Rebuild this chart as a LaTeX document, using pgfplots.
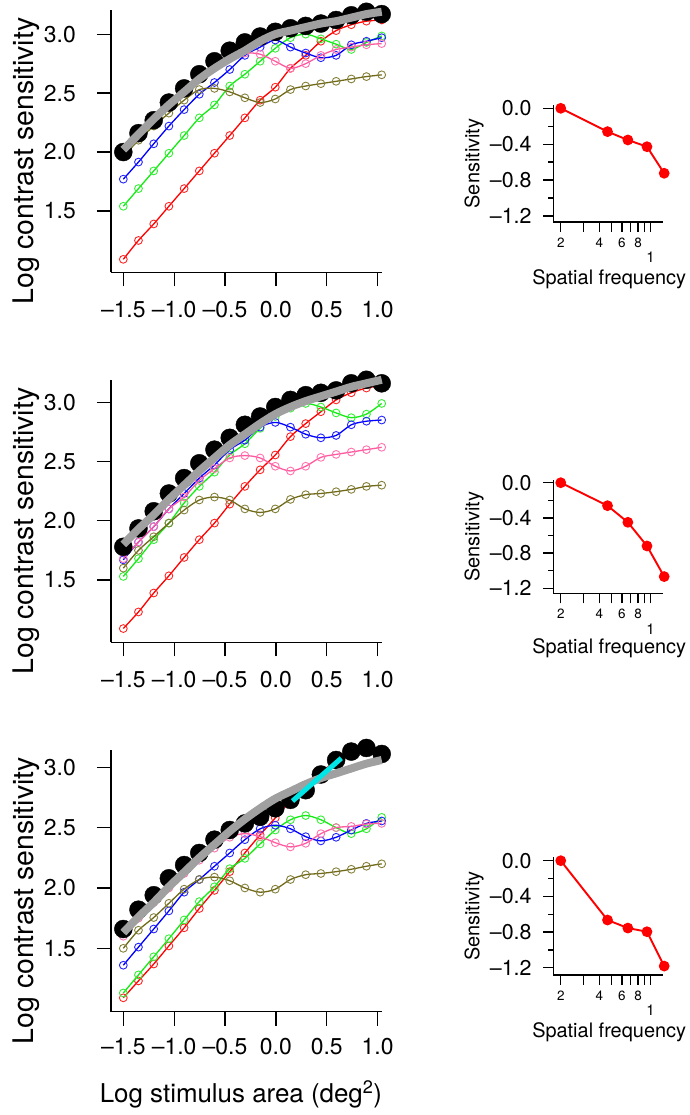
\documentclass[border=0pt]{standalone}
\usepackage{fontspec}
\setmainfont{TeX Gyre Heros}
\usepackage{pgfplots}
\usepackage{pgfplotstable}
\pgfplotsset{compat=1.18}
\definecolor{cred}{RGB}{255,0,0}
\definecolor{cblue}{RGB}{0,0,255}
\definecolor{cgreen}{RGB}{20,235,20}
\definecolor{cpink}{RGB}{255,90,160}
\definecolor{colive}{RGB}{112,106,24}
\definecolor{cgray}{RGB}{160,160,160}
\definecolor{ccyan}{RGB}{0,230,230}

\pgfplotstableread{
x red blue green pink olive black gray
-1.500 1.09 1.77 1.54 1.98 1.96 2.00 2.02
-1.351 1.25 1.915 1.69 2.12 2.10 2.16 2.15
-1.201 1.39 2.07 1.84 2.25 2.22 2.27 2.28
-1.052 1.54 2.22 1.99 2.38 2.33 2.42 2.40
-0.902 1.69 2.36 2.14 2.50 2.44 2.54 2.51
-0.753 1.84 2.49 2.29 2.62 2.53 2.66 2.62
-0.604 1.99 2.59 2.40 2.72 2.54 2.77 2.71
-0.454 2.14 2.70 2.56 2.80 2.51 2.86 2.79
-0.305 2.29 2.82 2.66 2.84 2.46 2.93 2.86
-0.155 2.44 2.89 2.77 2.83 2.42 2.98 2.94
-0.006 2.55 2.95 2.88 2.77 2.45 3.02 3.00
0.143 2.71 2.89 2.97 2.71 2.53 3.05 3.03
0.293 2.82 2.84 3.00 2.75 2.56 3.07 3.06
0.442 2.94 2.80 2.96 2.82 2.58 3.09 3.09
0.592 3.03 2.82 2.915 2.87 2.60 3.12 3.11
0.741 3.08 2.91 2.87 2.89 2.62 3.16 3.14
0.890 3.11 2.94 2.93 2.91 2.64 3.19 3.17
1.040 3.12 2.97 2.985 2.92 2.655 3.17 3.19
}\dataA

\pgfplotstableread{
x red blue green pink olive black gray
-1.500 1.09 1.67 1.53 1.68 1.60 1.78 1.80
-1.351 1.23 1.82 1.68 1.82 1.75 1.935 1.93
-1.201 1.39 1.95 1.84 1.95 1.865 2.08 2.05
-1.052 1.535 2.10 1.98 2.10 1.98 2.23 2.18
-0.902 1.69 2.23 2.15 2.20 2.09 2.36 2.30
-0.753 1.84 2.36 2.29 2.34 2.175 2.485 2.42
-0.604 1.98 2.47 2.41 2.44 2.20 2.60 2.53
-0.454 2.14 2.60 2.555 2.53 2.175 2.70 2.64
-0.305 2.29 2.68 2.65 2.55 2.10 2.81 2.73
-0.155 2.43 2.79 2.78 2.53 2.07 2.88 2.82
-0.006 2.555 2.83 2.88 2.46 2.10 2.96 2.90
0.143 2.71 2.79 2.95 2.42 2.18 3.02 2.96
0.293 2.82 2.73 2.99 2.46 2.22 3.06 3.01
0.442 2.92 2.70 2.96 2.535 2.23 3.08 3.05
0.592 3.02 2.72 2.91 2.56 2.245 3.10 3.09
0.741 3.08 2.81 2.87 2.58 2.265 3.16 3.13
0.890 3.12 2.84 2.90 2.60 2.29 3.19 3.16
1.040 3.14 2.85 2.99 2.62 2.30 3.16 3.19
}\dataB

\pgfplotstableread{
x red blue green pink olive black gray
-1.500 1.09 1.36 1.13 1.60 1.50 1.66 1.63
-1.351 1.23 1.51 1.28 1.75 1.65 1.82 1.76
-1.201 1.37 1.66 1.43 1.88 1.755 1.94 1.88
-1.052 1.52 1.81 1.58 2.00 1.873 2.08 2.01
-0.902 1.67 1.965 1.735 2.12 1.99 2.19 2.13
-0.753 1.83 2.07 1.887 2.23 2.07 2.29 2.25
-0.604 1.98 2.18 2.01 2.33 2.09 2.40 2.36
-0.454 2.135 2.29 2.16 2.42 2.06 2.48 2.47
-0.305 2.29 2.40 2.245 2.45 2.00 2.535 2.57
-0.155 2.44 2.49 2.365 2.425 1.965 2.59 2.66
-0.006 2.58 2.52 2.48 2.375 1.99 2.66 2.74
0.143 2.72 2.49 2.565 2.34 2.07 2.73 2.80
0.293 2.83 2.425 2.60 2.37 2.11 2.81 2.86
0.442 2.95 2.39 2.565 2.45 2.12 2.94 2.91
0.592 3.06 2.42 2.50 2.50 2.135 3.06 2.95
0.741 3.12 2.48 2.45 2.51 2.155 3.13 2.99
0.890 3.15 2.535 2.49 2.53 2.18 3.16 3.03
1.040 3.11 2.555 2.585 2.535 2.20 3.11 3.06
}\dataC

\pgfplotsset{
  leftax/.style={
    scale only axis, width=270.7bp, height=262.3bp,
    anchor=south west, clip=false, clip mode=individual,
    axis lines=left, axis line style={-, line width=1.3bp},
    xmin=-1.621, xmax=1.04,
    xtick={-1.5,-1,-0.5,0,0.5,1},
    xticklabels={\textendash1.5,\textendash1.0,\textendash0.5,0.0,0.5,1.0},
    ytick={1.5,2,2.5,3}, yticklabels={1.5,2.0,2.5,3.0},
    minor tick num=0,
    tick align=outside, major tick length=14bp,
    tick style={line width=1.3bp, black},
    ticklabel style={font=\fontsize{23}{27}\selectfont, inner sep=0pt},
    xticklabel style={anchor=center},
    yticklabel style={anchor=east},
    yticklabel shift=21bp,
    xlabel style={font=\fontsize{26}{30}\selectfont},
    ylabel style={font=\fontsize{28.5}{32}\selectfont},
    ylabel={Log contrast sensitivity},
    ylabel style={at={(axis description cs:-0.314,0.424)}, anchor=center},
  },
  rightax/.style={
    scale only axis, width=110bp,
    anchor=south west, clip=false, clip mode=individual,
    axis lines=left, axis line style={-, line width=1.3bp},
    xmin=1.75, xmax=12.6,
    xtick={2,3,4,5,6,7,8,9},
    xticklabels={2,,4,,6,,8,},
    extra x ticks={10}, extra x tick labels={1},
    extra x tick style={xticklabel style={yshift=-15bp, font=\fontsize{15}{18}\selectfont}},
    ytick={0,-0.4,-0.8,-1.2},
    yticklabels={0.0,\textendash0.4,\textendash0.8,\textendash1.2},
    minor ytick={-0.2,-0.6,-1.0},
    tick align=outside, major tick length=10bp, minor tick length=5bp,
    tick style={line width=1.3bp, black},
    ticklabel style={inner sep=0pt},
    xticklabel style={anchor=center, font=\fontsize{13.5}{16}\selectfont},
    xticklabel shift=10.7bp,
    yticklabel style={anchor=east, font=\fontsize{21.5}{25}\selectfont},
    yticklabel shift=11.6bp,
    label style={font=\fontsize{20}{24}\selectfont},
    xlabel={Spatial frequency},
    xlabel style={at={(axis description cs:0.508,-0.487)}, anchor=center},
    ylabel={Sensitivity},
    ylabel style={at={(axis description cs:-0.721,0.5)}, anchor=center},
  },
  ser/.style={color=#1, line width=1.3bp, smooth, mark=o, mark size=3.9bp,
    mark options={solid, line width=0.9bp, draw=#1!85!white}},
  blk/.style={only marks, mark=*, mark size=9bp, black},
  gry/.style={no marks, smooth, line width=8bp, cgray},
  rser/.style={cred, line width=1.9bp, mark=*, mark size=4.4bp},
}

\begin{document}
\begin{tikzpicture}
% ---------- left panel 1
\begin{axis}[leftax, at={(111bp,842.7bp)}, ymin=0.98, ymax=3.205, xticklabel shift=23.7bp]
\addplot[ser=cred] table[x=x,y=red]{\dataA};
\addplot[ser=cgreen] table[x=x,y=green]{\dataA};
\addplot[ser=cblue] table[x=x,y=blue]{\dataA};
\addplot[ser=cpink] table[x=x,y=pink]{\dataA};
\addplot[ser=colive] table[x=x,y=olive]{\dataA};
\addplot[blk] table[x=x,y=black]{\dataA};
\addplot[gry] table[x=x,y=gray]{\dataA};
\end{axis}
% ---------- left panel 2
\begin{axis}[leftax, at={(111bp,472.7bp)}, ymin=0.974, ymax=3.188, xticklabel shift=23bp]
\addplot[ser=cred] table[x=x,y=red]{\dataB};
\addplot[ser=cgreen] table[x=x,y=green]{\dataB};
\addplot[ser=cblue] table[x=x,y=blue]{\dataB};
\addplot[ser=cpink] table[x=x,y=pink]{\dataB};
\addplot[ser=colive] table[x=x,y=olive]{\dataB};
\addplot[blk] table[x=x,y=black]{\dataB};
\addplot[gry] table[x=x,y=gray]{\dataB};
\end{axis}
% ---------- left panel 3
\begin{axis}[leftax, at={(111bp,103.3bp)}, height=261.7bp, ymin=0.975, ymax=3.143, xticklabel shift=20.5bp,
  xlabel={Log stimulus area (deg\textsuperscript{2})},
  xlabel style={at={(axis description cs:0.48,-0.317)}, anchor=center}]
\addplot[ser=cred] table[x=x,y=red]{\dataC};
\addplot[ser=cgreen] table[x=x,y=green]{\dataC};
\addplot[ser=cblue] table[x=x,y=blue]{\dataC};
\addplot[ser=cpink] table[x=x,y=pink]{\dataC};
\addplot[ser=colive] table[x=x,y=olive]{\dataC};
\addplot[blk] table[x=x,y=black]{\dataC};
\addplot[gry] table[x=x,y=gray]{\dataC};
\addplot[no marks, line width=5bp, ccyan] coordinates {(0.163,2.72) (0.643,3.075)};
\end{axis}
% ---------- right panel 1
\begin{semilogxaxis}[rightax, at={(553.3bp,893bp)}, height=117bp, ymin=-1.267, ymax=0.037]
\addplot[rser] coordinates {(2,0) (4.63,-0.26) (6.67,-0.353) (9.4,-0.428) (12.8,-0.724)};
\end{semilogxaxis}
% ---------- right panel 2
\begin{semilogxaxis}[rightax, at={(553.3bp,521.7bp)}, height=113.3bp, ymin=-1.257, ymax=0.031]
\addplot[rser] coordinates {(2,0) (4.63,-0.261) (6.67,-0.45) (9.4,-0.719) (12.8,-1.067)};
\end{semilogxaxis}
% ---------- right panel 3
\begin{semilogxaxis}[rightax, at={(553.3bp,140bp)}, height=117.7bp, ymin=-1.281, ymax=0.038]
\addplot[rser] coordinates {(2,0) (4.63,-0.665) (6.67,-0.755) (9.4,-0.796) (12.8,-1.181)};
\end{semilogxaxis}
\pgfresetboundingbox
\useasboundingbox (0,0) rectangle (690bp,1115bp);
\end{tikzpicture}
\end{document}
